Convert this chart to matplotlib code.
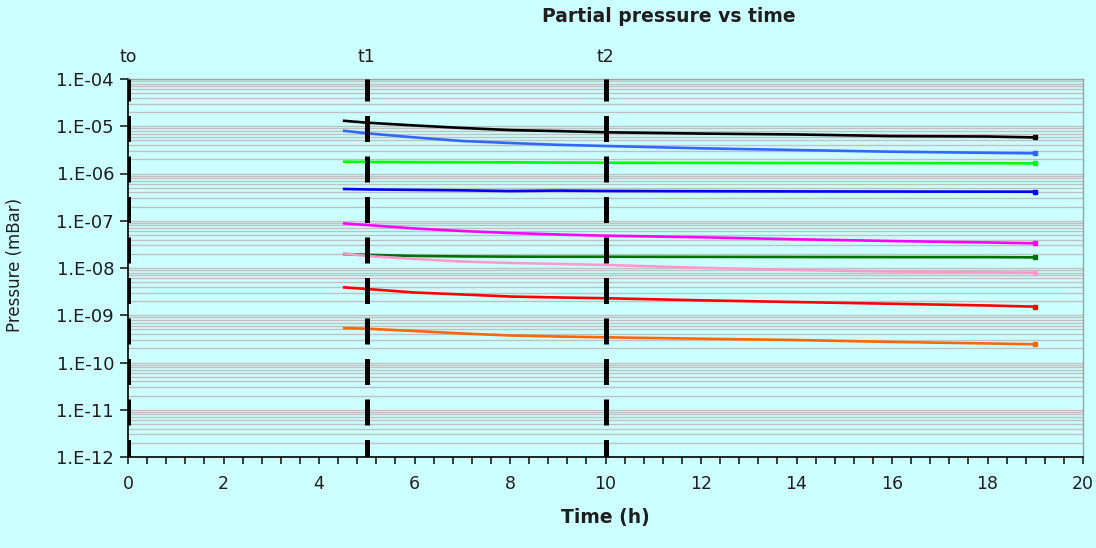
import matplotlib
matplotlib.use("Agg")
import matplotlib.pyplot as plt
from matplotlib.ticker import LogLocator, MultipleLocator, FixedLocator, NullFormatter
import matplotlib.transforms as mtransforms
import numpy as np

plt.rcParams['font.family'] = ['DejaVu Sans']

# ---- data ----
time_h = [4.5, 5, 6, 7, 8, 9, 10, 12, 14, 16, 18, 19]

s_black     = [1.31e-5, 1.19e-5, 1.04e-5, 9.2e-6, 8.3e-6, 7.9e-6, 7.45e-6, 7.0e-6, 6.7e-6, 6.2e-6, 6.07e-6, 5.8e-6]
s_royal     = [8.05e-6, 7.1e-6, 5.8e-6, 4.87e-6, 4.42e-6, 4.05e-6, 3.82e-6, 3.41e-6, 3.14e-6, 2.89e-6, 2.74e-6, 2.67e-6]
s_green     = [1.78e-6, 1.76e-6, 1.74e-6, 1.73e-6, 1.72e-6, 1.70e-6, 1.69e-6, 1.68e-6, 1.67e-6, 1.66e-6, 1.65e-6, 1.64e-6]
s_blue      = [4.7e-7, 4.6e-7, 4.5e-7, 4.4e-7, 4.25e-7, 4.35e-7, 4.27e-7, 4.22e-7, 4.18e-7, 4.15e-7, 4.13e-7, 4.12e-7]
s_magenta   = [8.8e-8, 8.13e-8, 6.86e-8, 6.07e-8, 5.5e-8, 5.12e-8, 4.83e-8, 4.47e-8, 4.05e-8, 3.72e-8, 3.47e-8, 3.33e-8]
s_darkgreen = [1.98e-8, 1.9e-8, 1.8e-8, 1.76e-8, 1.74e-8, 1.73e-8, 1.73e-8, 1.72e-8, 1.71e-8, 1.70e-8, 1.70e-8, 1.68e-8]
s_pink      = [2.05e-8, 1.79e-8, 1.55e-8, 1.37e-8, 1.28e-8, 1.22e-8, 1.16e-8, 1.01e-8, 9.07e-9, 8.43e-9, 8.1e-9, 7.95e-9]
s_red       = [3.9e-9, 3.6e-9, 3.03e-9, 2.75e-9, 2.49e-9, 2.38e-9, 2.29e-9, 2.07e-9, 1.9e-9, 1.75e-9, 1.61e-9, 1.52e-9]
s_orange    = [5.37e-10, 5.19e-10, 4.64e-10, 4.11e-10, 3.73e-10, 3.55e-10, 3.41e-10, 3.19e-10, 2.99e-10, 2.72e-10, 2.53e-10, 2.43e-10]

series = [
    (s_black, '#000000'),
    (s_royal, '#3366FF'),
    (s_green, '#00FF00'),
    (s_blue, '#0000FF'),
    (s_magenta, '#FF00FF'),
    (s_darkgreen, '#007000'),
    (s_pink, '#FF99CC'),
    (s_red, '#FF0000'),
    (s_orange, '#FF6600'),
]

marker_times = [0, 5, 10]
marker_labels = ['to', 't1', 't2']

ytick_vals = [1e-12, 1e-11, 1e-10, 1e-9, 1e-8, 1e-7, 1e-6, 1e-5, 1e-4]
ytick_labels = ['1.E-12', '1.E-11', '1.E-10', '1.E-09', '1.E-08', '1.E-07', '1.E-06', '1.E-05', '1.E-04']

bg = '#CCFFFF'
txt = '#1E1E1E'
fig = plt.figure(figsize=(10.96, 5.48), dpi=100, facecolor=bg)
ax = fig.add_axes([128/1096, 1-457/548, (1083-128)/1096, (457-79)/548])
ax.set_facecolor(bg)
ax.set_yscale('log')

# grid
ax.yaxis.set_major_locator(FixedLocator(ytick_vals))
ax.yaxis.set_minor_locator(LogLocator(base=10, subs=np.arange(2, 10), numticks=100))
ax.yaxis.set_minor_formatter(NullFormatter())
ax.set_yticks(ytick_vals)
ax.set_yticklabels(ytick_labels)
ax.grid(True, which='major', axis='y', color='#C0C0C0', lw=1.0, zorder=0)
ax.grid(True, which='minor', axis='y', color='#C0C0C0', lw=1.0, zorder=0)
ax.tick_params(axis='y', which='minor', length=0)
ax.tick_params(axis='y', which='major', length=6, width=1.2, direction='out', labelsize=13, pad=4, colors=txt)

ax.xaxis.set_major_locator(MultipleLocator(2))
ax.xaxis.set_minor_locator(MultipleLocator(0.4))
ax.tick_params(axis='x', which='both', length=5, width=1.2, direction='out', labelsize=12.5, pad=8, colors=txt)

for s in ['left', 'bottom']:
    ax.spines[s].set_color('#000000')
    ax.spines[s].set_linewidth(1.2)
for s in ['right', 'top']:
    ax.spines[s].set_color('#A0A0A0')
    ax.spines[s].set_linewidth(1.0)

for vals, c in series:
    ax.plot(time_h, vals, color=c, lw=1.9, zorder=3, solid_capstyle='butt')
    ax.plot(time_h[-1:], vals[-1:], marker='s', ms=3.5, color=c, lw=0, zorder=4)

ymin, ymax = ytick_vals[0], ytick_vals[-1]
trans = mtransforms.blended_transform_factory(ax.transData, ax.transAxes)
for t, lab in zip(marker_times, marker_labels):
    ax.plot([t, t], [ymax, ymin], color='black', lw=3.6, linestyle=(0.8, (5.2, 2.9)),
            dash_capstyle='butt', zorder=5)
    ax.text(t, 1 + 22/378, lab, transform=trans, ha='center', va='center', fontsize=12.5,
            color=txt, clip_on=False)

ax.set_xlim(0, 20)
ax.set_ylim(ymin, ymax)

fig.text(669/1096, 1-17/548, 'Partial pressure vs time', ha='center', va='center',
         fontsize=13.5, fontweight='bold', color=txt)
fig.text(605/1096, 1-518/548, 'Time (h)', ha='center', va='center',
         fontsize=13.5, fontweight='bold', color=txt)
fig.text(15/1096, 1-265/548, 'Pressure (mBar)', ha='center', va='center', rotation=90,
         fontsize=12, color=txt)

fig.savefig('out.png', dpi=100, facecolor=bg)
